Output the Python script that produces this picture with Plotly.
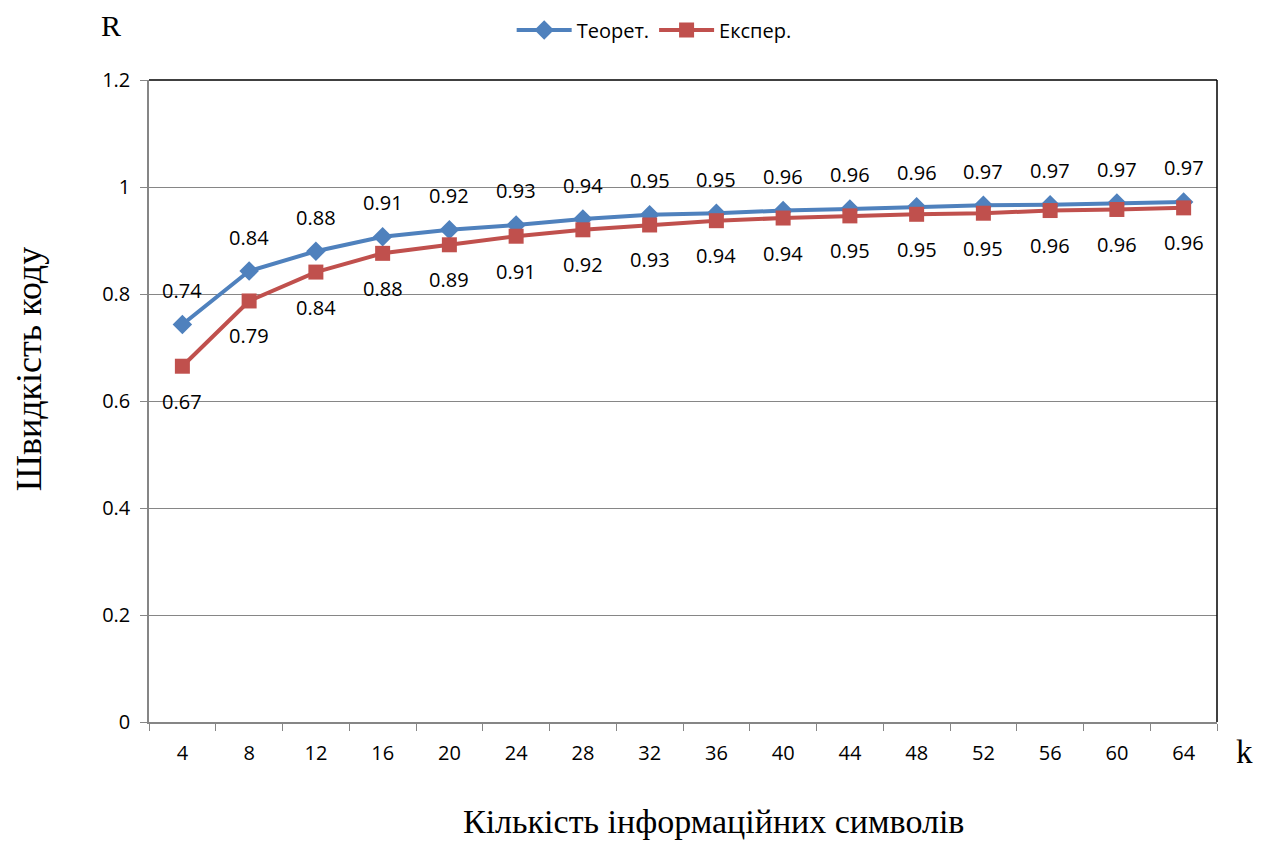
import plotly.graph_objects as go

k_vals = ["4", "8", "12", "16", "20", "24", "28", "32", "36", "40", "44", "48", "52", "56", "60", "64"]
teor = [0.743, 0.843, 0.880, 0.907, 0.920, 0.929, 0.940, 0.948, 0.951, 0.956, 0.959, 0.963, 0.966, 0.967, 0.970, 0.972]
exper = [0.665, 0.787, 0.841, 0.876, 0.892, 0.908, 0.920, 0.929, 0.937, 0.942, 0.946, 0.949, 0.951, 0.956, 0.958, 0.961]
y_ticks = [0, 0.2, 0.4, 0.6, 0.8, 1, 1.2]

blue = "#4F81BD"
red = "#C0504D"
lab_font = dict(family="Open Sans", size=20, color="#000000")
serif = "Liberation Serif"

fig = go.Figure()
fig.add_trace(go.Scatter(x=k_vals, y=teor, mode="lines+markers", name="Теорет.",
                         line=dict(color=blue, width=4),
                         marker=dict(symbol="diamond", size=15, color=blue)))
fig.add_trace(go.Scatter(x=k_vals, y=exper, mode="lines+markers", name="Експер.",
                         line=dict(color=red, width=4),
                         marker=dict(symbol="square", size=15, color=red)))

# data labels: theoretical above, experimental below (x = category index)
for i, (t, e) in enumerate(zip(teor, exper)):
    fig.add_annotation(x=i, y=t, text=f"{t:.2f}", showarrow=False, yshift=34, font=lab_font)
    fig.add_annotation(x=i, y=e, text=f"{e:.2f}", showarrow=False, yshift=-35, font=lab_font)

# axis captions
fig.add_annotation(x=-0.036, y=1.0, xref="paper", yref="paper", text="R", showarrow=False,
                   xanchor="center", yanchor="middle", yshift=55,
                   font=dict(family=serif, size=30, color="#000"))
fig.add_annotation(x=1.026, y=0, xref="paper", yref="paper", text="k", showarrow=False,
                   xanchor="center", yanchor="middle", yshift=-30,
                   font=dict(family=serif, size=33, color="#000"))
fig.add_annotation(x=-0.112, y=0.55, xref="paper", yref="paper", text="Швидкість коду",
                   textangle=-90, showarrow=False, xanchor="center", yanchor="middle",
                   font=dict(family=serif, size=36, color="#000"))
fig.add_annotation(x=0.529, y=0, xref="paper", yref="paper", text="Кількість інформаційних символів",
                   showarrow=False, xanchor="center", yanchor="middle", yshift=-99,
                   font=dict(family=serif, size=34, color="#000"))

# top and right border of plot area
fig.add_shape(type="line", xref="paper", yref="paper", x0=0, x1=1, y0=1, y1=1,
              line=dict(color="#000", width=1.5))
fig.add_shape(type="line", xref="paper", yref="paper", x0=1, x1=1, y0=0, y1=1,
              line=dict(color="#000", width=1.5))

fig.update_layout(
    width=1263, height=833,
    margin=dict(l=141, r=54, t=72, b=119, autoexpand=False),
    plot_bgcolor="white", paper_bgcolor="white",
    font=dict(family="Open Sans", size=20, color="#000"),
    showlegend=True,
    legend=dict(orientation="h", x=0.473, xanchor="center", yref="container", y=1 - 22 / 833,
                yanchor="middle", font=dict(family="Open Sans", size=20), itemwidth=55),
    xaxis=dict(type="category", range=[-0.5, 15.5], tickson="boundaries",
               ticks="outside", ticklen=7, tickcolor="#868686",
               showline=True, linecolor="#868686", linewidth=1.5,
               showgrid=False, ticklabelstandoff=12),
    yaxis=dict(range=[0, 1.2], tickvals=y_ticks, ticktext=["0", "0.2", "0.4", "0.6", "0.8", "1", "1.2"],
               ticks="outside", ticklen=7, tickcolor="#868686",
               showline=True, linecolor="#868686", linewidth=1.5,
               showgrid=True, gridcolor="#868686", gridwidth=1,
               zeroline=False, ticklabelstandoff=6),
)

fig.write_html("out.html")
